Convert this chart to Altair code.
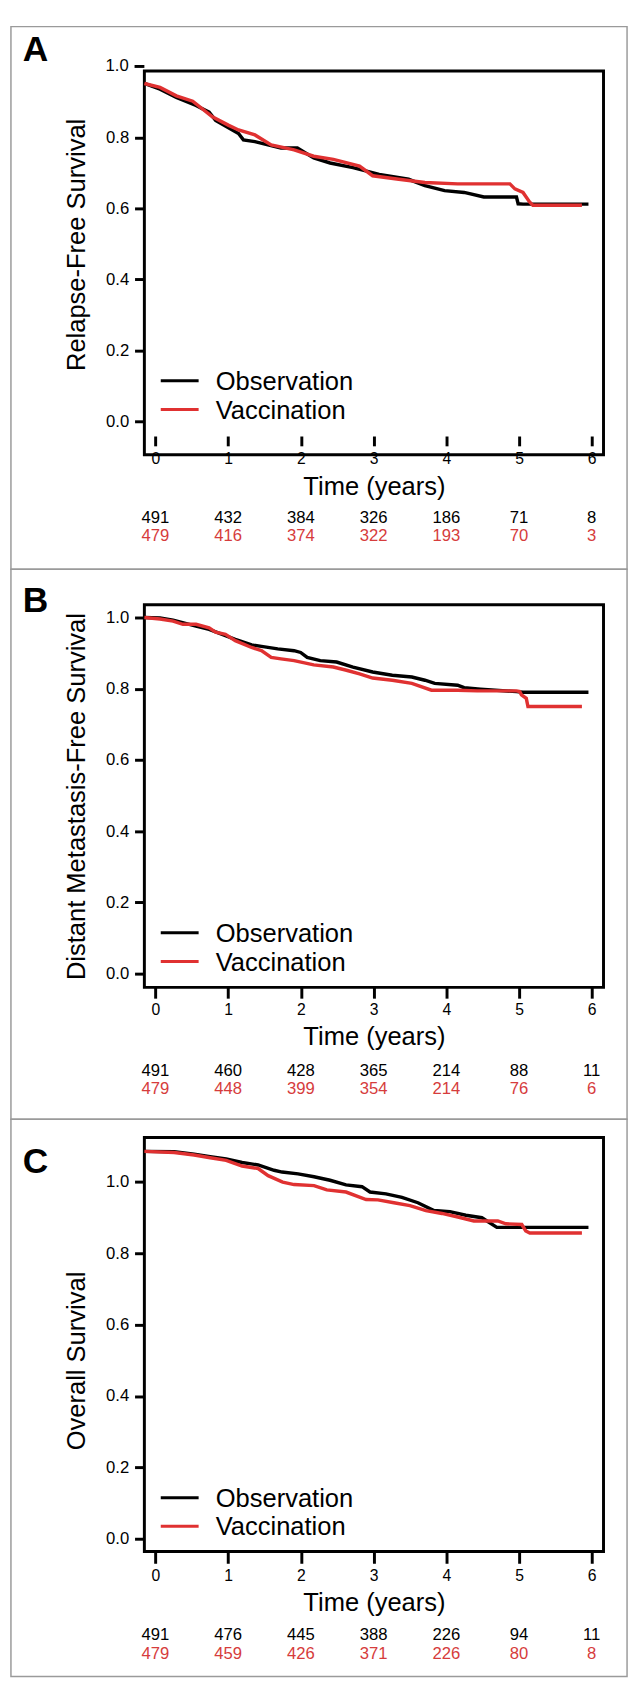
import altair as alt
import pandas as pd

FONT = "Liberation Sans"
RED = "#e03131"
RED_TXT = "#d63c3c"

YEARS = [0, 1, 2, 3, 4, 5, 6]

# ---------------- Panel A: Relapse-Free Survival ----------------
A_obs_t = [-0.152, 0.063, 0.288, 0.558, 0.738, 0.828, 1.143, 1.210, 1.368, 1.548, 1.727, 1.952,
           2.177, 2.402, 2.717, 3.077, 3.481, 3.706, 3.976, 4.246, 4.516, 4.965, 4.988, 5.055, 5.955]
A_obs_s = [0.952, 0.936, 0.913, 0.890, 0.871, 0.848, 0.811, 0.793, 0.788, 0.779, 0.770, 0.770,
           0.742, 0.728, 0.715, 0.696, 0.682, 0.664, 0.650, 0.645, 0.632, 0.632, 0.613, 0.612, 0.612]
A_vac_t = [-0.152, 0.063, 0.288, 0.513, 0.783, 1.008, 1.143, 1.368, 1.592, 1.907, 2.177, 2.447,
           2.807, 2.987, 3.346, 3.706, 4.156, 4.606, 4.875, 4.943, 5.055, 5.145, 5.190, 5.865]
A_vac_s = [0.952, 0.941, 0.917, 0.902, 0.858, 0.834, 0.821, 0.807, 0.779, 0.765, 0.747, 0.738,
           0.719, 0.692, 0.682, 0.673, 0.669, 0.669, 0.669, 0.655, 0.645, 0.618, 0.609, 0.609]
A_risk_obs = [491, 432, 384, 326, 186, 71, 8]
A_risk_vac = [479, 416, 374, 322, 193, 70, 3]

# ---------------- Panel B: Distant Metastasis-Free Survival ----------------
B_obs_t = [-0.152, 0.063, 0.243, 0.558, 0.738, 1.098, 1.323, 1.458, 1.682, 1.907, 1.997, 2.087,
           2.267, 2.492, 2.717, 2.987, 3.257, 3.526, 3.706, 3.841, 4.156, 4.246, 4.471, 4.965, 5.055, 5.955]
B_obs_s = [1.0, 0.999, 0.993, 0.976, 0.967, 0.939, 0.923, 0.919, 0.912, 0.907, 0.902, 0.888,
           0.879, 0.875, 0.861, 0.847, 0.838, 0.833, 0.824, 0.815, 0.810, 0.803, 0.799, 0.792, 0.790, 0.790]
B_vac_t = [-0.152, 0.063, 0.243, 0.378, 0.558, 0.738, 0.828, 0.963, 1.098, 1.323, 1.458, 1.592,
           1.727, 1.907, 2.177, 2.447, 2.627, 2.807, 2.987, 3.257, 3.526, 3.796, 4.156, 4.426,
           4.965, 5.010, 5.033, 5.100, 5.123, 5.865]
B_vac_s = [1.0, 0.996, 0.990, 0.981, 0.981, 0.971, 0.959, 0.953, 0.935, 0.916, 0.907, 0.888,
           0.884, 0.879, 0.867, 0.861, 0.852, 0.842, 0.830, 0.824, 0.815, 0.796, 0.796, 0.794,
           0.794, 0.792, 0.783, 0.773, 0.750, 0.750]
B_risk_obs = [491, 460, 428, 365, 214, 88, 11]
B_risk_vac = [479, 448, 399, 354, 214, 76, 6]

# ---------------- Panel C: Overall Survival ----------------
C_obs_t = [-0.152, 0.258, 0.533, 0.753, 0.973, 1.192, 1.412, 1.632, 1.742, 1.962, 2.181, 2.401,
           2.621, 2.841, 2.951, 3.170, 3.390, 3.610, 3.830, 4.049, 4.269, 4.489, 4.695, 4.819, 5.038, 5.955]
C_obs_s = [1.086, 1.085, 1.078, 1.071, 1.065, 1.055, 1.048, 1.033, 1.028, 1.023, 1.015, 1.005,
           0.992, 0.987, 0.972, 0.967, 0.957, 0.942, 0.920, 0.917, 0.907, 0.900, 0.873, 0.873, 0.873, 0.873]
C_vac_t = [-0.152, 0.258, 0.533, 0.753, 0.973, 1.192, 1.412, 1.550, 1.750, 1.907, 2.181, 2.357,
           2.621, 2.897, 3.060, 3.280, 3.500, 3.720, 3.940, 4.159, 4.379, 4.709, 4.819, 5.038,
           5.093, 5.148, 5.865]
C_vac_s = [1.086, 1.083, 1.076, 1.068, 1.061, 1.045, 1.038, 1.018, 1.000, 0.993, 0.990, 0.978,
           0.972, 0.951, 0.950, 0.942, 0.934, 0.920, 0.912, 0.902, 0.891, 0.891, 0.883, 0.881,
           0.863, 0.857, 0.857]
C_risk_obs = [491, 476, 445, 388, 226, 94, 11]
C_risk_vac = [479, 459, 426, 371, 226, 80, 8]

X_DOMAIN = [-0.152, 6.162]
W = 468
ONE = alt.Data(values=[{"k": 1}])


def panel(obs_t, obs_s, vac_t, vac_s, risk_obs, risk_vac, ytitle, letter, c):
    df_obs = pd.DataFrame({"t": obs_t, "s": obs_s})
    df_vac = pd.DataFrame({"t": vac_t, "s": vac_s})
    df_risk = pd.DataFrame({"t": YEARS, "obs": [str(v) for v in risk_obs],
                            "vac": [str(v) for v in risk_vac]})
    xs = alt.Scale(domain=X_DOMAIN, nice=False, zero=False)
    ys = alt.Scale(domain=c["ydom"], nice=False, zero=False)

    x_axis = alt.Axis(values=YEARS, format="d", offset=c["xoff"], tickSize=c["xts"], tickWidth=3,
                      tickColor="black", domain=False, grid=False, labelFontSize=16,
                      labelFont=FONT, labelColor="black", labelPadding=c["xlp"], labelFlush=False,
                      title="Time (years)", titleFontSize=26, titleFont=FONT,
                      titleFontWeight="normal", titleColor="black", titleX=W / 2,
                      titleY=c["xtY"], titleAlign="center", titleBaseline="alphabetic")
    y_axis = alt.Axis(values=c["yticks"], format=".1f", tickSize=10, tickWidth=3, tickColor="black",
                      domain=False, grid=False, labelFontSize=17, labelFont=FONT, labelColor="black",
                      labelPadding=6, labelFlush=False, title=ytitle, titleFontSize=26, titleFont=FONT,
                      titleFontWeight="normal", titleColor="black", titleX=-61, titleY=c["ytY"],
                      titleAngle=270, titleAlign="center", titleBaseline="alphabetic")

    X = alt.X("t:Q", scale=xs, axis=x_axis, title="Time (years)")
    Y = alt.Y("s:Q", scale=ys, axis=y_axis, title=ytitle)

    obs_line = alt.Chart(df_obs).mark_line(color="black", strokeWidth=3.5).encode(x=X, y=Y)
    vac_line = alt.Chart(df_vac).mark_line(color=RED, strokeWidth=3.5).encode(x=X, y=Y)

    risk1 = alt.Chart(df_risk).mark_text(fontSize=17, font=FONT, color="black",
                                         align="center", baseline="alphabetic").encode(
        x=X, y=alt.value(c["r1"]), text="obs:N")
    risk2 = alt.Chart(df_risk).mark_text(fontSize=17, font=FONT, color=RED_TXT,
                                         align="center", baseline="alphabetic").encode(
        x=X, y=alt.value(c["r2"]), text="vac:N")

    layers = [obs_line, vac_line, risk1, risk2]

    for lab, col, ly in [("Observation", "black", c["l1"]), ("Vaccination", RED, c["l2"])]:
        layers.append(alt.Chart(ONE).mark_rule(color=col, strokeWidth=3).encode(
            x=alt.value(16.7), x2=alt.value(55.3), y=alt.value(ly)))
        layers.append(alt.Chart(ONE).mark_text(text=lab, fontSize=26, font=FONT, color="black",
                                               align="left", baseline="alphabetic").encode(
            x=alt.value(72.7), y=alt.value(ly + 9.3)))

    layers.append(alt.Chart(ONE).mark_text(text=letter, fontSize=36, fontWeight="bold", font=FONT,
                                           color="black", align="left", baseline="alphabetic").encode(
        x=alt.value(-124), y=alt.value(c["let"])))

    layers.append(alt.Chart(ONE).mark_rect(fillOpacity=0, stroke="#9a9a9a", strokeWidth=1.5).encode(
        x=alt.value(-136), x2=alt.value(492), y=alt.value(c["b1"]), y2=alt.value(c["b2"])))

    if c.get("extra") is not None:
        ev = c["extra"]
        Ys = alt.Y("s:Q", scale=ys, axis=y_axis, title=ytitle)
        tick_df = pd.DataFrame({"s": [ev]})
        layers.append(alt.Chart(tick_df).mark_rule(color="black", strokeWidth=3).encode(
            y=Ys, x=alt.value(-10), x2=alt.value(0)))
        layers.append(alt.Chart(tick_df).mark_text(text="1.0", fontSize=17, font=FONT, color="black",
                                                   align="right", baseline="middle").encode(
            y=Ys, x=alt.value(-16)))

    return alt.layer(*layers).properties(width=W, height=c["h"])


cA = dict(h=391, ydom=[-0.094, 0.987], yticks=[0, 0.2, 0.4, 0.6, 0.8], ytY=176.7,
          xoff=-19, xts=10, xlp=5, xtY=60, r1=460.8, r2=479.5, l1=315.7, l2=345.0,
          let=-10.3, b1=-45.3, b2=507.7, extra=1.0)
cB = dict(h=390, ydom=[-0.039, 1.036], yticks=[0, 0.2, 0.4, 0.6, 0.8, 1.0], ytY=195,
          xoff=0, xts=11, xlp=4, xtY=58, r1=480.5, r2=498.8, l1=334.4, l2=363.7,
          let=7.7, b1=-36.3, b2=524.4, extra=None)
cC = dict(h=422, ydom=[-0.036, 1.125], yticks=[0, 0.2, 0.4, 0.6, 0.8, 1.0], ytY=227.3,
          xoff=0, xts=12, xlp=5, xtY=60, r1=512.4, r2=531.8, l1=367.3, l2=396.3,
          let=36.0, b1=-18.6, b2=549.5, extra=None)

pA = panel(A_obs_t, A_obs_s, A_vac_t, A_vac_s, A_risk_obs, A_risk_vac,
           "Relapse-Free Survival", "A", cA)
pB = panel(B_obs_t, B_obs_s, B_vac_t, B_vac_s, B_risk_obs, B_risk_vac,
           "Distant Metastasis-Free Survival", "B", cB)
pC = panel(C_obs_t, C_obs_s, C_vac_t, C_vac_s, C_risk_obs, C_risk_vac,
           "Overall Survival", "C", cC)

chart = alt.vconcat(pA, pB, pC, spacing=153, bounds="flush").properties(
    padding=0, background="white"
).configure(font=FONT).configure_view(stroke="black", strokeWidth=3)

chart.save("out.html", embed_options={"renderer": "svg", "actions": False})
